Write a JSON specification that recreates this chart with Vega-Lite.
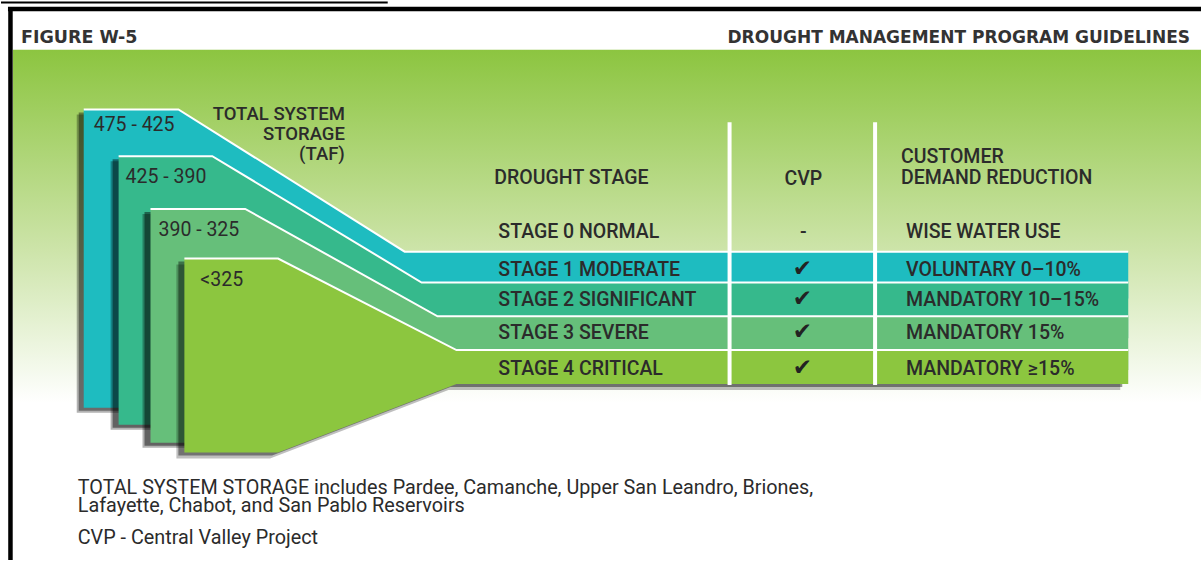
{
  "$schema": "https://vega.github.io/schema/vega-lite/v6.json",
  "width": 1204,
  "height": 563,
  "autosize": {"type": "fit", "contains": "padding"},
  "padding": 0,
  "background": "#ffffff",
  "config": {"view": {"stroke": null}},
  "datasets": {
    "shapes": [
      {"s": 1, "x": 83, "top": 110, "bot": 410},
      {"s": 1, "x": 178, "top": 110, "bot": 410},
      {"s": 1, "x": 405, "top": 253, "bot": 300},
      {"s": 1, "x": 1131, "top": 253, "bot": 300},
      {"s": 2, "x": 118, "top": 157, "bot": 427},
      {"s": 2, "x": 212, "top": 157, "bot": 427},
      {"s": 2, "x": 422, "top": 284, "bot": 340},
      {"s": 2, "x": 1131, "top": 284, "bot": 340},
      {"s": 3, "x": 150, "top": 210, "bot": 445},
      {"s": 3, "x": 245, "top": 210, "bot": 445},
      {"s": 3, "x": 438, "top": 318, "bot": 372},
      {"s": 3, "x": 1131, "top": 318, "bot": 372},
      {"s": 4, "x": 184, "top": 260, "bot": 455},
      {"s": 4, "x": 278, "top": 260, "bot": 455},
      {"s": 4, "x": 457, "top": 352, "bot": 386},
      {"s": 4, "x": 1131, "top": 352, "bot": 386}
    ]
  },
  "encoding": {
    "x": {"field": "x", "type": "quantitative", "axis": null, "scale": {"domain": [0, 1204], "nice": false, "zero": false}},
    "y": {"field": "y", "type": "quantitative", "axis": null, "scale": {"domain": [0, 563], "nice": false, "zero": false, "reverse": true}}
  },
  "layer": [
    {
      "data": {"values": [{"x": 12, "x2": 1204, "y": 50, "y2": 405}]},
      "mark": {"type": "rect", "fill": {"gradient": "linear", "x1": 0, "y1": 0, "x2": 0, "y2": 1, "stops": [{"offset": 0, "color": "#8cc540"}, {"offset": 0.55, "color": "#cbe3a6"}, {"offset": 1, "color": "#ffffff"}]}},
      "encoding": {"x2": {"field": "x2"}, "y2": {"field": "y2"}}
    },
    {
      "data": {"values": [{"x": 0, "x2": 388, "y": 2.5, "y2": 2.5}]},
      "mark": {"type": "rule", "color": "#000000", "strokeWidth": 2},
      "encoding": {"x2": {"field": "x2"}, "y2": {"field": "y2"}}
    },
    {
      "data": {"values": [{"x": 7, "x2": 1204, "y": 9, "y2": 9}, {"x": 9.5, "x2": 9.5, "y": 7, "y2": 563}]},
      "mark": {"type": "rule", "color": "#000000", "strokeWidth": 4.5},
      "encoding": {"x2": {"field": "x2"}, "y2": {"field": "y2"}}
    },
    {
      "data": {"name": "shapes"},
      "transform": [{"filter": "datum.s == 1"}],
      "mark": {"type": "area", "color": "#000000", "opacity": 0.3, "xOffset": -7, "yOffset": 5, "y2Offset": 5},
      "encoding": {"y": {"field": "top", "type": "quantitative"}, "y2": {"field": "bot"}}
    },
    {
      "data": {"name": "shapes"},
      "transform": [{"filter": "datum.s == 1"}],
      "mark": {"type": "area", "color": "#000000", "opacity": 0.4, "xOffset": -5, "yOffset": 3, "y2Offset": 3},
      "encoding": {"y": {"field": "top", "type": "quantitative"}, "y2": {"field": "bot"}}
    },
    {
      "data": {"name": "shapes"},
      "transform": [{"filter": "datum.s == 1"}],
      "mark": {"type": "area", "color": "#1ebcc0", "opacity": 1},
      "encoding": {"y": {"field": "top", "type": "quantitative"}, "y2": {"field": "bot"}}
    },
    {
      "data": {"name": "shapes"},
      "transform": [{"filter": "datum.s == 2"}],
      "mark": {"type": "area", "color": "#000000", "opacity": 0.3, "xOffset": -8, "yOffset": 5, "y2Offset": 5},
      "encoding": {"y": {"field": "top", "type": "quantitative"}, "y2": {"field": "bot"}}
    },
    {
      "data": {"name": "shapes"},
      "transform": [{"filter": "datum.s == 2"}],
      "mark": {"type": "area", "color": "#000000", "opacity": 0.45, "xOffset": -6, "yOffset": 3, "y2Offset": 3},
      "encoding": {"y": {"field": "top", "type": "quantitative"}, "y2": {"field": "bot"}}
    },
    {
      "data": {"name": "shapes"},
      "transform": [{"filter": "datum.s == 2"}],
      "mark": {"type": "area", "color": "#36b98c", "opacity": 1},
      "encoding": {"y": {"field": "top", "type": "quantitative"}, "y2": {"field": "bot"}}
    },
    {
      "data": {"name": "shapes"},
      "transform": [{"filter": "datum.s == 3"}],
      "mark": {"type": "area", "color": "#000000", "opacity": 0.3, "xOffset": -8, "yOffset": 5, "y2Offset": 5},
      "encoding": {"y": {"field": "top", "type": "quantitative"}, "y2": {"field": "bot"}}
    },
    {
      "data": {"name": "shapes"},
      "transform": [{"filter": "datum.s == 3"}],
      "mark": {"type": "area", "color": "#000000", "opacity": 0.45, "xOffset": -6, "yOffset": 3, "y2Offset": 3},
      "encoding": {"y": {"field": "top", "type": "quantitative"}, "y2": {"field": "bot"}}
    },
    {
      "data": {"name": "shapes"},
      "transform": [{"filter": "datum.s == 3"}],
      "mark": {"type": "area", "color": "#66bf7a", "opacity": 1},
      "encoding": {"y": {"field": "top", "type": "quantitative"}, "y2": {"field": "bot"}}
    },
    {
      "data": {"name": "shapes"},
      "transform": [{"filter": "datum.s == 4"}],
      "mark": {"type": "area", "color": "#000000", "opacity": 0.25, "xOffset": -8, "yOffset": 6, "y2Offset": 6},
      "encoding": {"y": {"field": "top", "type": "quantitative"}, "y2": {"field": "bot"}}
    },
    {
      "data": {"name": "shapes"},
      "transform": [{"filter": "datum.s == 4"}],
      "mark": {"type": "area", "color": "#000000", "opacity": 0.4, "xOffset": -6, "yOffset": 3, "y2Offset": 3},
      "encoding": {"y": {"field": "top", "type": "quantitative"}, "y2": {"field": "bot"}}
    },
    {
      "data": {"name": "shapes"},
      "transform": [{"filter": "datum.s == 4"}],
      "mark": {"type": "area", "color": "#8cc63f", "opacity": 1},
      "encoding": {"y": {"field": "top", "type": "quantitative"}, "y2": {"field": "bot"}}
    },
    {
      "data": {"name": "shapes"},
      "mark": {"type": "line", "color": "#ffffff", "strokeWidth": 2},
      "encoding": {"y": {"field": "top", "type": "quantitative"}, "detail": {"field": "s"}}
    },
    {
      "data": {"values": [{"x": 731, "y": 123, "y2": 387}, {"x": 877, "y": 123, "y2": 387}]},
      "mark": {"type": "rule", "color": "#ffffff", "strokeWidth": 4},
      "encoding": {"y2": {"field": "y2"}}
    },
    {
      "data": {"values": [{"x": 20, "y": 43, "t": "FIGURE W-5"}]},
      "mark": {"type": "text", "align": "left", "baseline": "alphabetic", "font": "DejaVu Sans", "fontWeight": "bold", "fontSize": 17.5, "color": "#333333"},
      "encoding": {"text": {"field": "t"}}
    },
    {
      "data": {"values": [{"x": 1193, "y": 43, "t": "DROUGHT MANAGEMENT PROGRAM GUIDELINES"}]},
      "mark": {"type": "text", "align": "right", "baseline": "alphabetic", "font": "DejaVu Sans", "fontWeight": "bold", "fontSize": 17, "color": "#333333"},
      "encoding": {"text": {"field": "t"}}
    },
    {
      "data": {"values": [
        {"x": 345, "y": 121, "t": "TOTAL SYSTEM"},
        {"x": 345, "y": 141, "t": "STORAGE"},
        {"x": 345, "y": 161, "t": "(TAF)"}
      ]},
      "mark": {"type": "text", "align": "right", "baseline": "alphabetic", "font": "Roboto", "fontWeight": 500, "fontSize": 18.5, "color": "#2b2b2b"},
      "encoding": {"text": {"field": "t"}}
    },
    {
      "data": {"values": [
        {"x": 93, "y": 132, "t": "475 - 425"},
        {"x": 125, "y": 184, "t": "425 - 390"},
        {"x": 158, "y": 237, "t": "390 - 325"},
        {"x": 200, "y": 288, "t": "<325"}
      ]},
      "mark": {"type": "text", "align": "left", "baseline": "alphabetic", "font": "Roboto", "fontSize": 19.5, "color": "#2b2b2b"},
      "encoding": {"text": {"field": "t"}}
    },
    {
      "data": {"values": [
        {"x": 495, "y": 185, "t": "DROUGHT STAGE"},
        {"x": 903, "y": 164, "t": "CUSTOMER"},
        {"x": 903, "y": 185, "t": "DEMAND REDUCTION"},
        {"x": 499, "y": 239, "t": "STAGE 0 NORMAL"},
        {"x": 908, "y": 239, "t": "WISE WATER USE"},
        {"x": 499, "y": 277, "t": "STAGE 1 MODERATE"},
        {"x": 908, "y": 277, "t": "VOLUNTARY 0–10%"},
        {"x": 499, "y": 308, "t": "STAGE 2 SIGNIFICANT"},
        {"x": 908, "y": 308, "t": "MANDATORY 10–15%"},
        {"x": 499, "y": 341, "t": "STAGE 3 SEVERE"},
        {"x": 908, "y": 341, "t": "MANDATORY 15%"},
        {"x": 499, "y": 377, "t": "STAGE 4 CRITICAL"},
        {"x": 908, "y": 377, "t": "MANDATORY ≥15%"}
      ]},
      "mark": {"type": "text", "align": "left", "baseline": "alphabetic", "font": "Roboto", "fontWeight": 500, "fontSize": 19.5, "color": "#2b2b2b"},
      "encoding": {"text": {"field": "t"}}
    },
    {
      "data": {"values": [
        {"x": 805, "y": 186, "t": "CVP"},
        {"x": 805, "y": 239, "t": "-"}
      ]},
      "mark": {"type": "text", "align": "center", "baseline": "alphabetic", "font": "Roboto", "fontWeight": 500, "fontSize": 19.5, "color": "#2b2b2b"},
      "encoding": {"text": {"field": "t"}}
    },
    {
      "data": {"values": [
        {"x": 804, "y": 277, "t": "✔"},
        {"x": 804, "y": 308, "t": "✔"},
        {"x": 804, "y": 341, "t": "✔"},
        {"x": 804, "y": 377, "t": "✔"}
      ]},
      "mark": {"type": "text", "align": "center", "baseline": "alphabetic", "font": "DejaVu Sans", "fontSize": 23, "color": "#222222"},
      "encoding": {"text": {"field": "t"}}
    },
    {
      "data": {"values": [
        {"x": 77, "y": 497, "t": "TOTAL SYSTEM STORAGE includes Pardee, Camanche, Upper San Leandro, Briones,"},
        {"x": 77, "y": 515, "t": "Lafayette, Chabot, and San Pablo Reservoirs"},
        {"x": 77, "y": 547, "t": "CVP - Central Valley Project"}
      ]},
      "mark": {"type": "text", "align": "left", "baseline": "alphabetic", "font": "Roboto", "fontSize": 19.8, "color": "#2b2b2b"},
      "encoding": {"text": {"field": "t"}}
    }
  ]
}
